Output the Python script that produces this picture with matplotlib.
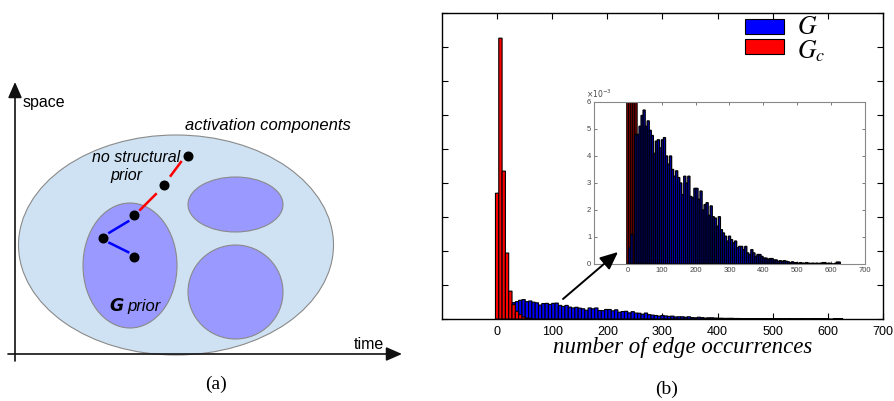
import matplotlib
matplotlib.use("Agg")
import matplotlib.pyplot as plt
from matplotlib.patches import Ellipse, Rectangle, FancyArrowPatch
import numpy as np

plt.rcParams["font.family"] = ["Liberation Sans", "DejaVu Sans"]
plt.rcParams["mathtext.fontset"] = "stix"

# ---------------- histogram data (density, in units of 1e-3) ----------------
bin_width = 6
bin_centers = np.arange(0, 625, bin_width)

g_density = [
    0.0, 0.6, 1.1, 0.0, 4.8, 4.8, 5.1, 5.5, 5.7, 5.1,
    5.3, 4.95, 4.76, 4.1, 4.55, 4.6, 4.3, 4.6, 4.68, 4.0,
    3.7, 4.0, 3.5, 3.25, 3.45, 3.2, 3.0, 2.57, 3.25, 3.0,
    3.25, 2.5, 2.45, 2.8, 2.8, 2.4, 2.7, 2.0, 2.2, 2.27,
    1.8, 2.15, 1.75, 1.7, 1.4, 1.75, 1.27, 1.15, 1.03, 0.85,
    1.03, 0.9, 0.78, 0.85, 0.6, 0.65, 0.65, 0.53, 0.65, 0.41,
    0.35, 0.53, 0.41, 0.28, 0.35, 0.35, 0.28, 0.22, 0.22, 0.18,
    0.2, 0.2, 0.15, 0.15, 0.1, 0.12, 0.1, 0.12, 0.1, 0.08,
    0.05, 0.08, 0.05, 0.05, 0.03, 0.05, 0.03, 0.03, 0.05, 0.03,
    0.02, 0.03, 0.02, 0.03, 0.02, 0.03, 0.05, 0.05, 0.02, 0.03,
    0.02, 0.0, 0.02, 0.07, 0.07,
]
gc_density = [37.0, 82.6, 43.5, 19.4, 8.2, 4.2, 2.3, 1.3, 0.6, 0.3, 0.2]

main_xticks = [0, 100, 200, 300, 400, 500, 600, 700]
inset_yticks = [0, 1, 2, 3, 4, 5, 6]

W, H = 895, 401
fig = plt.figure(figsize=(W / 100, H / 100), dpi=100)


def frac(x0, y0, x1, y1):
    """Axes rectangle from pixel box (top-left origin)."""
    return [x0 / W, 1 - y1 / H, (x1 - x0) / W, (y1 - y0) / H]


BLUE = "#0000ff"
RED = "#ff0000"

# ---------------- (b) main histogram ----------------
axb = fig.add_axes(frac(442, 13, 883, 319))
bars_g = axb.bar(bin_centers, g_density, width=bin_width, color=BLUE,
                 edgecolor="black", linewidth=0.8, zorder=2)
bars_gc = axb.bar(bin_centers[:len(gc_density)], gc_density, width=bin_width,
                  color=RED, edgecolor="black", linewidth=0.8, zorder=3)
axb.set_xlim(-100, 700)
axb.set_ylim(0, 90)
axb.set_xticks(main_xticks)
axb.set_yticks(np.arange(0, 91, 10))
axb.set_yticklabels([])
axb.tick_params(direction="in", top=True, right=True, length=4,
                width=0.8, labelsize=9, pad=5)
for s in axb.spines.values():
    s.set_linewidth(1.0)

# ---------------- (b) inset: zoom on low densities ----------------
axi = fig.add_axes(frac(594, 102, 865, 264))
bars_gc_i = axi.bar(bin_centers[:len(gc_density)], gc_density, width=bin_width,
                    color=RED, edgecolor="black", linewidth=1.0, zorder=2)
bars_g_i = axi.bar(bin_centers, g_density, width=bin_width, color=BLUE,
                   edgecolor="black", linewidth=1.0, zorder=3)
axi.set_xlim(-100, 700)
axi.set_ylim(0, 6)
axi.set_xticks(main_xticks)
axi.set_yticks(inset_yticks)
axi.tick_params(direction="in", top=True, right=True, length=2.5,
                width=0.5, labelsize=5.5, pad=2, colors="#444444")
for s in axi.spines.values():
    s.set_linewidth(0.8)
    s.set_color("#888888")

for container in (bars_g, bars_gc, bars_gc_i, bars_g_i):
    for patch in container:
        patch.set_snap(False)

# ---------------- pixel-space overlay for diagram and annotations ----------------
ov = fig.add_axes([0, 0, 1, 1], zorder=10)
ov.set_xlim(0, W)
ov.set_ylim(H, 0)
ov.axis("off")
ov.patch.set_alpha(0)

# (a) diagram: activation components with nested priors
ov.add_patch(Ellipse((176, 245), 315, 220, facecolor="#cfe2f3",
                     edgecolor="#8a8a8a", linewidth=0.8))
ov.add_patch(Ellipse((130, 265.5), 94, 125, facecolor="#9999ff",
                     edgecolor="#8a8a8a", linewidth=0.8))
ov.add_patch(Ellipse((235.5, 204.5), 95, 55, facecolor="#9999ff",
                     edgecolor="#8a8a8a", linewidth=0.8))
ov.add_patch(Ellipse((235.5, 292), 95, 94, facecolor="#9999ff",
                     edgecolor="#8a8a8a", linewidth=0.8))

# space / time axes
ax_arrow = dict(arrowstyle="-|>,head_length=0.8,head_width=0.35",
                color="#111111", lw=1.2, shrinkA=0, shrinkB=0,
                mutation_scale=12)
ov.annotate("", xy=(15, 82), xytext=(15, 361), arrowprops=ax_arrow)
ov.annotate("", xy=(402, 354), xytext=(8, 354), arrowprops=ax_arrow)

# edges between activation nodes
ov.plot([181.7, 170.0], [161.0, 176.7], color=RED, lw=1.8, solid_capstyle="butt")
ov.plot([156.7, 139.3], [193.3, 210.7], color=RED, lw=1.8, solid_capstyle="butt")
ov.plot([129.3, 108.3], [220.7, 233.3], color=BLUE, lw=1.8, solid_capstyle="butt")
ov.plot([108.3, 129.3], [242.3, 252.7], color=BLUE, lw=1.8, solid_capstyle="butt")
ov.plot([188, 164, 134, 103, 134], [156, 185, 215, 238, 257], "o",
        color="black", markersize=6.2, linestyle="none")

ov.text(23, 107.5, "space", fontsize=11.5, va="baseline", ha="left")
ov.text(185, 130, "activation components", fontsize=12, style="italic",
        va="baseline", ha="left")
ov.text(92, 161.5, "no structural", fontsize=11.5, style="italic",
        va="baseline", ha="left")
ov.text(110, 180, "prior", fontsize=11.5, style="italic",
        va="baseline", ha="left")
ov.text(109, 311, r"$\mathbfit{G}$", fontsize=12.5, va="baseline", ha="left",
        math_fontfamily="dejavusans")
ov.text(127, 311, "prior", fontsize=12, style="italic",
        va="baseline", ha="left")
ov.text(354, 349, "time", fontsize=11.5, va="baseline", ha="left")

ov.text(216, 384, "(a)", fontsize=14, family="Liberation Serif",
        ha="center", va="center")
ov.text(667, 389, "(b)", fontsize=14, family="Liberation Serif",
        ha="center", va="center")

# (b) labels, legend and zoom arrow
ov.text(683, 348, "number of edge occurrences", fontsize=16.5,
        family="Liberation Serif", style="italic", ha="center", va="center")
ov.text(586, 98, r"$\times10^{-3}$", fontsize=5.5, color="#444444",
        ha="left", va="baseline", math_fontfamily="dejavusans")

ov.add_patch(Rectangle((745, 19), 39, 15, facecolor=BLUE,
                       edgecolor="black", linewidth=0.8))
ov.add_patch(Rectangle((745, 39), 39, 15, facecolor=RED,
                       edgecolor="black", linewidth=0.8))
ov.text(797, 34, r"$G$", fontsize=18.5, ha="left", va="baseline")
ov.text(797, 58, r"$G_c$", fontsize=18.5, ha="left", va="baseline")

ov.add_patch(FancyArrowPatch((563, 299), (618, 252),
                             arrowstyle="-|>,head_length=0.9,head_width=0.4",
                             mutation_scale=12, color="black", lw=1.4,
                             shrinkA=0, shrinkB=0))

fig.savefig("out.png", dpi=100)
